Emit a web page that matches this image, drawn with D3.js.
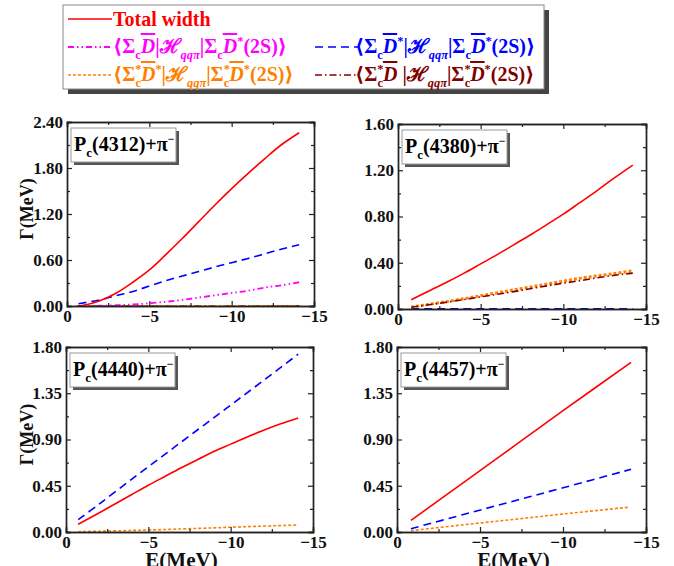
<!DOCTYPE html>
<html>
<head>
<meta charset="utf-8">
<script src="https://cdn.jsdelivr.net/npm/d3@7"></script>
<style>
  html, body { margin: 0; padding: 0; background: #fff; }
  svg { display: block; }
  text { font-family: "Liberation Serif", "Times New Roman", "DejaVu Serif", serif; font-weight: bold; }
</style>
</head>
<body>
<svg id="chart" width="674" height="566"></svg>
<script>
// ---------------- DATA ----------------
const xTicks = [0, -5, -10, -15];
const xMinorTicks = [-2.5, -7.5, -12.5];

// Pc(4312)+pi-
const p4312_total = [[-0.6,0],[-1,0.01],[-2,0.07],[-3,0.17],[-4,0.31],[-5,0.47],[-6,0.67],[-7,0.88],[-8,1.10],[-9,1.32],[-10,1.53],[-11,1.73],[-12,1.92],[-13,2.10],[-14.1,2.26]];
const p4312_SD_SDs = [[-0.7,0],[-2,0.003],[-3,0.01],[-4,0.02],[-5,0.035],[-6,0.055],[-7,0.08],[-8,0.11],[-9,0.14],[-10,0.17],[-11,0.2],[-12,0.24],[-13,0.27],[-14.1,0.31]];
const p4312_SDs_SDs = [[-0.7,0.03],[-2,0.08],[-3,0.135],[-4,0.19],[-5,0.26],[-6,0.33],[-7,0.39],[-8,0.45],[-9,0.51],[-10,0.565],[-11,0.62],[-12,0.68],[-13,0.74],[-14.1,0.80]];
const p4312_SsDs_SsDs = [[-0.7,0.002],[-14.1,0.004]];
const p4312_SsD_SsDs = [[-0.7,0],[-14.1,0.001]];

// Pc(4380)+pi-
const p4380_total = [[-0.8,0.08],[-2,0.165],[-3,0.235],[-4,0.31],[-5,0.39],[-6,0.47],[-7,0.555],[-8,0.64],[-9,0.73],[-10,0.82],[-11,0.92],[-12,1.02],[-13,1.125],[-14.2,1.245]];
const p4380_SDs_SDs = [[-0.8,0.001],[-14.2,0.002]];
const p4380_SsDs_SsDs = [[-0.8,0.017],[-3,0.065],[-5,0.115],[-7,0.165],[-9,0.215],[-11,0.265],[-13,0.305],[-14.2,0.33]];
const p4380_SsD_SsDs = [[-0.8,0.015],[-3,0.06],[-5,0.105],[-7,0.15],[-9,0.2],[-11,0.245],[-13,0.29],[-14.2,0.31]];

// Pc(4440)+pi-
const p4440_total = [[-0.74,0.075],[-2,0.185],[-3,0.275],[-4,0.365],[-5,0.455],[-6,0.54],[-7,0.625],[-8,0.705],[-9,0.785],[-10,0.855],[-11,0.925],[-12,0.99],[-13,1.05],[-14.1,1.11]];
const p4440_SDs_SDs = [[-0.74,0.12],[-2,0.27],[-4,0.515],[-6,0.755],[-8,0.995],[-10,1.235],[-12,1.475],[-14.1,1.73]];
const p4440_SsDs_SsDs = [[-0.74,0.003],[-4,0.015],[-8,0.035],[-11,0.052],[-14.1,0.068]];

// Pc(4457)+pi-
const p4457_total = [[-0.84,0.113],[-4,0.48],[-7,0.83],[-10,1.18],[-14.1,1.65]];
const p4457_SDs_SDs = [[-0.84,0.032],[-4,0.17],[-7,0.3],[-10,0.43],[-14.1,0.61]];
const p4457_SsDs_SsDs = [[-0.84,0.013],[-4,0.07],[-7,0.122],[-10,0.175],[-13.9,0.24]];

const panelNames = ["4312", "4380", "4440", "4457"];
const yMaxes = [2.4, 1.6, 1.8, 1.8];
const yTickSteps = [0.6, 0.4, 0.45, 0.45];

// ---------------- STYLES ----------------
const styles = {
  total:   { color: "#ff0000", dash: null,              width: 1.6 },
  SD:      { color: "#ff00ff", dash: "6,3,1.5,3,1.5,3", width: 1.8 },
  SDs:     { color: "#0000ff", dash: "8,5",             width: 1.6 },
  SsDs:    { color: "#ff8000", dash: "3,2",             width: 1.6 },
  SsD:     { color: "#800000", dash: "7,3,1.5,3",       width: 1.6 }
};

const panels = [
  { box: [67, 122, 314, 306], series: [["SsD", p4312_SsD_SsDs], ["SsDs", p4312_SsDs_SsDs], ["SD", p4312_SD_SDs], ["SDs", p4312_SDs_SDs], ["total", p4312_total]], yTitle: true, xTitle: false },
  { box: [398, 124, 646, 309], series: [["SDs", p4380_SDs_SDs], ["SsDs", p4380_SsDs_SsDs, 3], ["SsD", p4380_SsD_SsDs], ["total", p4380_total]], yTitle: false, xTitle: false },
  { box: [66, 347, 313, 532], series: [["SsDs", p4440_SsDs_SsDs], ["SDs", p4440_SDs_SDs], ["total", p4440_total]], yTitle: true, xTitle: true },
  { box: [397, 347, 646, 532], series: [["SsDs", p4457_SsDs_SsDs], ["SDs", p4457_SDs_SDs], ["total", p4457_total]], yTitle: false, xTitle: true }
];

const svg = d3.select("#chart");

// rich text helper
function rich(sel, segs, size) {
  let shift = 0;
  segs.forEach(s => {
    const target = s.sub ? size * 0.3 : (s.sup ? -size * 0.38 : 0);
    const ts = sel.append("tspan").attr("dy", target - shift).text(s.t);
    shift = target;
    if (s.sub || s.sup) ts.attr("font-size", size * (s.small || 0.62));
    if (s.it) ts.attr("font-style", "italic");
    if (s.ov) ts.style("text-decoration", "overline");
    if (s.dx) ts.attr("dx", s.dx);
    if (s.fam) ts.attr("font-family", s.fam);
  });
}

// ---------------- PANELS ----------------
panels.forEach((p, i) => {
  const [x0, y0, x1, y1] = p.box;
  const x = d3.scaleLinear().domain([0, -15]).range([x0, x1]);
  const yMax = yMaxes[i], step = yTickSteps[i];
  const y = d3.scaleLinear().domain([0, yMax]).range([y1, y0]);
  const yMajor = d3.range(0, yMax + 1e-9, step);
  const yMinor = d3.range(step / 2, yMax, step);
  const g = svg.append("g");

  const line = d3.line().x(d => x(d[0])).y(d => y(d[1])).curve(d3.curveCatmullRom.alpha(0.5));
  p.series.forEach(([key, data, w]) => {
    const st = styles[key];
    g.append("path").datum(data).attr("d", line)
      .attr("fill", "none").attr("stroke", st.color)
      .attr("stroke-width", w || st.width)
      .attr("stroke-dasharray", st.dash);
  });

  const fmtY = d3.format(".2f");
  g.append("g").attr("transform", `translate(0,${y1})`)
    .call(d3.axisBottom(x).tickValues(xTicks).tickSize(-5).tickPadding(4));
  g.append("g").attr("transform", `translate(0,${y1})`)
    .call(d3.axisBottom(x).tickValues(xMinorTicks).tickSize(-3).tickFormat(""));
  g.append("g").attr("transform", `translate(0,${y0})`)
    .call(d3.axisTop(x).tickValues(xTicks).tickSize(-5).tickFormat(""));
  g.append("g").attr("transform", `translate(0,${y0})`)
    .call(d3.axisTop(x).tickValues(xMinorTicks).tickSize(-3).tickFormat(""));
  g.append("g").attr("transform", `translate(${x0},0)`)
    .call(d3.axisLeft(y).tickValues(yMajor).tickSize(-5).tickPadding(4).tickFormat(fmtY));
  g.append("g").attr("transform", `translate(${x0},0)`)
    .call(d3.axisLeft(y).tickValues(yMinor).tickSize(-3).tickFormat(""));
  g.append("g").attr("transform", `translate(${x1},0)`)
    .call(d3.axisRight(y).tickValues(yMajor).tickSize(-5).tickFormat(""));
  g.append("g").attr("transform", `translate(${x1},0)`)
    .call(d3.axisRight(y).tickValues(yMinor).tickSize(-3).tickFormat(""));

  g.selectAll(".domain").attr("stroke", "#222").attr("stroke-width", 1.4);
  g.selectAll(".tick line").attr("stroke", "#222").attr("stroke-width", 1.2);
  g.selectAll(".tick text").attr("font-size", 17).attr("fill", "#111")
    .attr("font-family", "Liberation Serif, Times New Roman, serif").attr("font-weight", "bold");

  // label box
  const bx = x0 + 4, by = y0 + 6, bw = 105, bh = 34;
  g.append("rect").attr("x", bx + 3).attr("y", by + 3).attr("width", bw).attr("height", bh).attr("fill", "#555");
  g.append("rect").attr("x", bx).attr("y", by).attr("width", bw).attr("height", bh)
    .attr("fill", "#fff").attr("stroke", "#999").attr("stroke-width", 1);
  const lt = g.append("text").attr("x", bx + 3).attr("y", by + 23).attr("font-size", 20).attr("fill", "#000");
  rich(lt, [{ t: "P" }, { t: "c", sub: true, small: 0.65 }, { t: `(${panelNames[i]})+π` }, { t: "−", sup: true, small: 0.6 }], 20);

  if (p.yTitle) {
    const cy = (y0 + y1) / 2 - 5;
    g.append("text").attr("transform", `translate(33,${cy}) rotate(-90)`)
      .attr("text-anchor", "middle").attr("font-size", 18).attr("fill", "#111").text("Γ(MeV)");
  }
  if (p.xTitle) {
    g.append("text").attr("x", (x0 + x1) / 2 - 8).attr("y", 567)
      .attr("text-anchor", "middle").attr("font-size", 21).attr("fill", "#111").text("E(MeV)");
  }
});

// ---------------- LEGEND ----------------
const lg = svg.append("g");
lg.append("rect").attr("x", 68).attr("y", 10).attr("width", 481).attr("height", 84).attr("fill", "#444");
lg.append("rect").attr("x", 63).attr("y", 5).attr("width", 481).attr("height", 84)
  .attr("fill", "#fff").attr("stroke", "#888").attr("stroke-width", 1);

const legendItems = [
  { key: "total", lx: 68, ly: 19, tx: 113, ty: 26, segs: [{ t: "Total width" }] },
  { key: "SD", lx: 68, ly: 47, tx: 113, ty: 53, segs: [
      { t: "⟨Σ" }, { t: "c", sub: true }, { t: "D", it: true, ov: true }, { t: "|" },
      { t: "ℋ", fam: "DejaVu Serif" }, { t: "qqπ", sub: true, it: true }, { t: "|Σ" }, { t: "c", sub: true },
      { t: "D", it: true, ov: true }, { t: "*", sup: true }, { t: "(2S)⟩" }] },
  { key: "SDs", lx: 315, ly: 47, tx: 355, ty: 53, segs: [
      { t: "⟨Σ" }, { t: "c", sub: true }, { t: "D", it: true, ov: true }, { t: "*", sup: true }, { t: "|" },
      { t: "ℋ", fam: "DejaVu Serif" }, { t: "qqπ", sub: true, it: true }, { t: "|Σ" }, { t: "c", sub: true },
      { t: "D", it: true, ov: true }, { t: "*", sup: true }, { t: "(2S)⟩" }] },
  { key: "SsDs", lx: 68, ly: 75, tx: 113, ty: 81, segs: [
      { t: "⟨Σ" }, { t: "*", sup: true }, { t: "c", sub: true, dx: -6 }, { t: "D", it: true, ov: true }, { t: "*", sup: true }, { t: "|" },
      { t: "ℋ", fam: "DejaVu Serif" }, { t: "qqπ", sub: true, it: true }, { t: "|Σ" }, { t: "*", sup: true }, { t: "c", sub: true, dx: -6 },
      { t: "D", it: true, ov: true }, { t: "*", sup: true }, { t: "(2S)⟩" }] },
  { key: "SsD", lx: 315, ly: 75, tx: 355, ty: 81, segs: [
      { t: "⟨Σ" }, { t: "*", sup: true }, { t: "c", sub: true, dx: -6 }, { t: "D", it: true, ov: true }, { t: " |" },
      { t: "ℋ", fam: "DejaVu Serif" }, { t: "qqπ", sub: true, it: true }, { t: "|Σ" }, { t: "*", sup: true }, { t: "c", sub: true, dx: -6 },
      { t: "D", it: true, ov: true }, { t: "*", sup: true }, { t: "(2S)⟩" }] }
];

legendItems.forEach(it => {
  const st = styles[it.key];
  lg.append("line").attr("x1", it.lx).attr("x2", it.lx + 44).attr("y1", it.ly).attr("y2", it.ly)
    .attr("stroke", st.color).attr("stroke-width", st.width).attr("stroke-dasharray", st.dash);
  const t = lg.append("text").attr("x", it.tx).attr("y", it.ty).attr("font-size", 20).attr("fill", st.color);
  rich(t, it.segs, 20);
});
</script>
</body>
</html>
